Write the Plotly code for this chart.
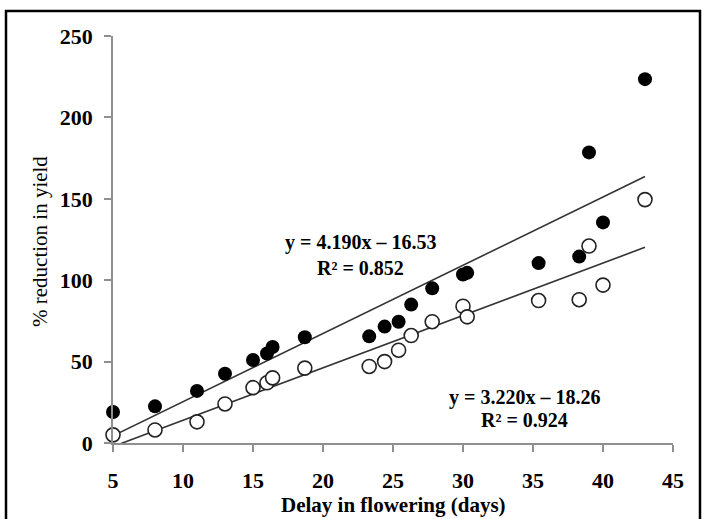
import plotly.graph_objects as go

# ---- data ----
delay_days = [5, 8, 11, 13, 15, 16, 16.4, 18.7, 23.3, 24.4, 25.4, 26.3, 27.8, 30.0, 30.3, 35.4, 38.3, 39, 40, 43]
reduction_filled = [19, 22.5, 32, 42.5, 51, 55, 59, 65, 65.5, 71.5, 74.5, 85, 95, 103.5, 104.5, 110.5, 114.5, 178.5, 135.5, 223.5]
reduction_open = [5, 8, 13, 24, 34, 37, 40, 46, 47, 50, 57, 66, 74.5, 84, 77.5, 87.5, 88, 121, 97, 149.5]

fit_filled = {"slope": 4.190, "intercept": -16.53, "r2": 0.852}
fit_open = {"slope": 3.220, "intercept": -18.26, "r2": 0.924}
fit_x = [5, 43]

x_ticks = [5, 10, 15, 20, 25, 30, 35, 40, 45]
y_ticks = [0, 50, 100, 150, 200, 250]
x_title = "Delay in flowering (days)"
y_title = "% reduction in yield"

SERIF = "Liberation Serif, Times New Roman, serif"
AXC = "#8f8f8f"

# plot-area pixel geometry (figure 702x519)
L, R, T, B = 113, 673, 36, 443
PW, PH = R - L, B - T

def px_x(p):
    return (p - L) / PW

def px_y(p):
    return (B - p) / PH

fig = go.Figure()

for fit in (fit_filled, fit_open):
    fig.add_trace(go.Scatter(
        x=fit_x, y=[fit["slope"] * v + fit["intercept"] for v in fit_x],
        mode="lines", line=dict(color="#333333", width=1.6),
        showlegend=False, hoverinfo="skip"))

fig.add_trace(go.Scatter(
    x=delay_days, y=reduction_open, mode="markers", cliponaxis=False,
    marker=dict(symbol="circle", size=14, color="white",
                line=dict(color="#222222", width=1.6)),
    showlegend=False))
fig.add_trace(go.Scatter(
    x=delay_days, y=reduction_filled, mode="markers", cliponaxis=False,
    marker=dict(symbol="circle", size=14, color="black",
                line=dict(color="black", width=0)),
    showlegend=False))

def eq_text(fit):
    sign = "\u2013" if fit["intercept"] < 0 else "+"
    return f"y = {fit['slope']:.3f}x {sign} {abs(fit['intercept']):.2f}", f"R\u00b2 = {fit['r2']:.3f}"

ann = []
for fit, cx, y1, y2 in ((fit_filled, 360, 242, 268), (fit_open, 524, 397, 420)):
    t1, t2 = eq_text(fit)
    for t, py in ((t1, y1), (t2, y2)):
        ann.append(dict(text=f"<b>{t}</b>", xref="paper", yref="paper",
                        x=px_x(cx), y=px_y(py),
                        xanchor="center", yanchor="middle", showarrow=False,
                        font=dict(family=SERIF, size=20, color="black")))

# axis titles
ann.append(dict(text=f"<b>{x_title}</b>", xref="paper", yref="paper",
                x=px_x((L + R) / 2), y=px_y(505), xanchor="center", yanchor="middle",
                showarrow=False, font=dict(family=SERIF, size=21, color="black")))
ann.append(dict(text=y_title, xref="paper", yref="paper", textangle=-90,
                x=px_x(40), y=px_y(242), xanchor="center", yanchor="middle",
                showarrow=False, font=dict(family=SERIF, size=21, color="black")))

fig.update_layout(
    width=702, height=519,
    margin=dict(l=L, r=702 - R, t=T, b=519 - B),
    paper_bgcolor="white", plot_bgcolor="white",
    annotations=ann,
    shapes=[dict(type="rect", xref="paper", yref="paper",
                 x0=px_x(6), x1=px_x(700), y0=px_y(540), y1=px_y(11),
                 line=dict(color="black", width=2.5), fillcolor="rgba(0,0,0,0)",
                 layer="below")],
)

fig.update_xaxes(
    range=[5, 45], tickvals=x_ticks, ticktext=[f"<b>{v}</b>" for v in x_ticks],
    showgrid=False, zeroline=False, showline=True, linecolor=AXC, linewidth=1.5,
    ticks="outside", ticklen=7, tickcolor=AXC, tickwidth=1.5,
    ticklabelstandoff=10, automargin=False,
    tickfont=dict(family=SERIF, size=22, color="black"))
fig.update_yaxes(
    range=[0, 250], tickvals=y_ticks, ticktext=[f"<b>{v}</b>" for v in y_ticks],
    showgrid=False, zeroline=False, showline=True, linecolor=AXC, linewidth=1.5,
    ticks="outside", ticklen=7, tickcolor=AXC, tickwidth=1.5,
    ticklabelstandoff=7, automargin=False,
    tickfont=dict(family=SERIF, size=22, color="black"))

fig.write_html("out.html", config={"displayModeBar": False},
               post_script="document.body.style.margin='0';")
